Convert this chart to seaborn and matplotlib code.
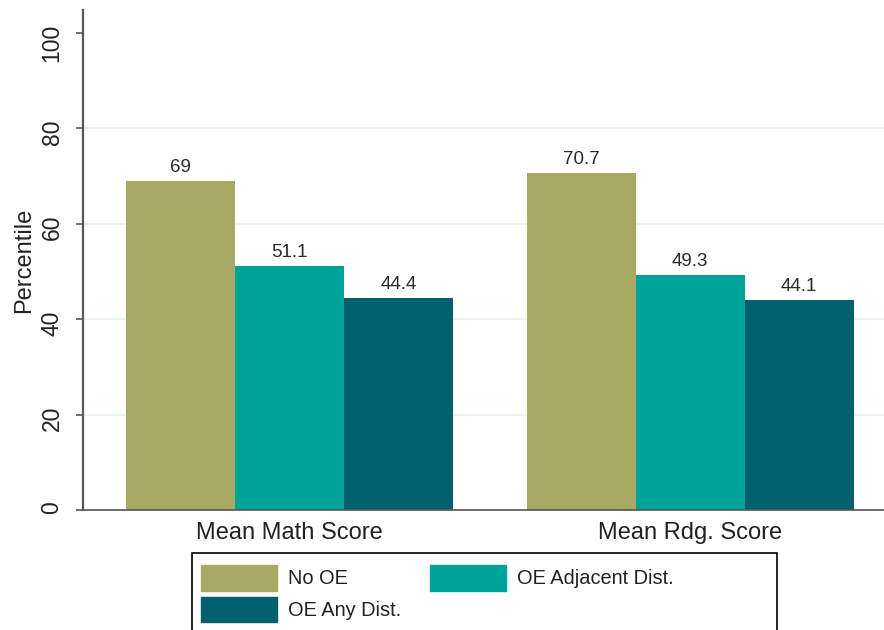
import pandas as pd
import matplotlib.pyplot as plt
from matplotlib.patches import Patch, Rectangle
import seaborn as sns

# du lieu doc tu hinh
scores = ['Mean Math Score', 'Mean Rdg. Score']
groups = ['No OE', 'OE Adjacent Dist.', 'OE Any Dist.']
no_oe = [69, 70.7]
oe_adjacent = [51.1, 49.3]
oe_any = [44.4, 44.1]
colors = ['#A8AA64', '#00A397', '#00606E']
yticks = [0, 20, 40, 60, 80, 100]

df = pd.DataFrame({
    'score': scores * 3,
    'group': [groups[0]] * 2 + [groups[1]] * 2 + [groups[2]] * 2,
    'value': no_oe + oe_adjacent + oe_any,
})

sns.set_theme(style='white')
plt.rcParams['font.family'] = ['Liberation Sans', 'DejaVu Sans']

fig = plt.figure(figsize=(8.84, 6.3), dpi=100)
ax = fig.add_axes([0.0939, 0.1905, 0.906, 0.7937])

sns.barplot(data=df, x='score', y='value', hue='group', hue_order=groups,
            palette=colors, saturation=1, width=0.815, linewidth=0,
            legend=False, ax=ax)

# nhan gia tri tren cot
for cont in ax.containers:
    ax.bar_label(cont, fmt='%g', padding=3.5, fontsize=13.5, color='#2a2a2a')

ax.set_xlim(-0.515, 1.483)
ax.set_ylim(0, 104.8)
ax.set_yticks(yticks)
ax.set_xlabel('')
ax.set_ylabel('Percentile', fontsize=17, color='#222222', labelpad=4)

ax.tick_params(axis='y', labelrotation=90, labelsize=16.5, length=5, width=1.2,
               color='#555555', labelcolor='#222222', pad=9, left=True)
ax.tick_params(axis='x', labelsize=17, length=0, pad=9, labelcolor='#222222')

ax.yaxis.grid(True, color='#E6F0F1', linewidth=1.2)
ax.set_axisbelow(True)
gl = ax.get_ygridlines()
gl[0].set_visible(False)
gl[-1].set_visible(False)

for s in ['top', 'right']:
    ax.spines[s].set_visible(False)
ax.spines['left'].set_color('#555555')
ax.spines['left'].set_linewidth(1.6)
ax.spines['bottom'].set_color('#555555')
ax.spines['bottom'].set_linewidth(1.2)

# chu thich o duoi
handles = [Patch(color=colors[0], label=groups[0]),
           Patch(color=colors[2], label=groups[2]),
           Patch(color=colors[1], label=groups[1])]
leg = fig.legend(handles=handles, ncol=2, loc='upper left',
                 bbox_to_anchor=(0.2172, 0.1175), borderaxespad=0,
                 fontsize=14.4, handlelength=3.8, handleheight=1.6,
                 handletextpad=0.55, columnspacing=1.45, labelspacing=0.3,
                 borderpad=0.45, frameon=False)
for t in leg.get_texts():
    t.set_color('#222222')

# khung chu thich rong hon nhu hinh goc
fig.patches.append(Rectangle((0.2172, -0.02), 0.662, 0.1422,
                             transform=fig.transFigure, fill=False,
                             edgecolor='black', linewidth=1.2))

fig.savefig('out.png', dpi=100)
